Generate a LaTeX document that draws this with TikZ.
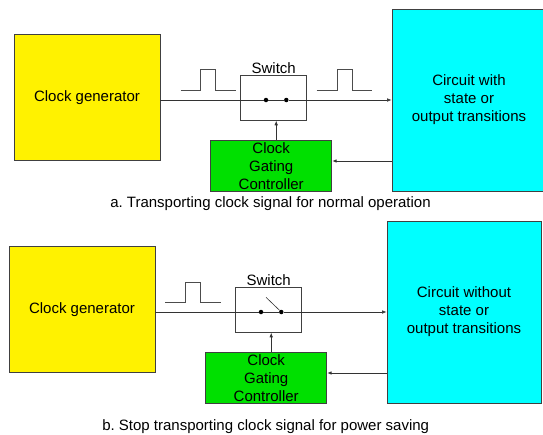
\documentclass[tikz,border=0pt]{standalone}
\usepackage{fontspec}
\setmainfont{Liberation Sans}
\usetikzlibrary{arrows.meta,positioning}
\definecolor{ctrlgreen}{RGB}{0,224,0}
\definecolor{circcyan}{RGB}{0,255,255}
\tikzset{
  blk/.style={draw=black!75, line width=0.8pt, align=center, inner sep=0pt},
  wire/.style={draw=black!80, line width=0.6pt},
  sig/.style={wire, -{Latex[length=4.5pt,width=3.5pt]}},
  pin/.style={circle, fill=black, inner sep=0pt, minimum size=4.5pt},
  pulse/.style={draw=black!70, line width=0.8pt},
}
\frenchspacing

\begin{document}
\begin{tikzpicture}[x=1pt,y=-1pt,font={\fontsize{15}{18}\selectfont}]
\clip (0,0) rectangle (543,434);
% ----- panel (a): clock passes the closed switch -----
\begin{scope}
\node[blk, fill=yellow, minimum width=146pt, minimum height=126.4pt] (gen-a) at (87,97.5) {Clock generator};
\node[blk, fill=circcyan, minimum width=154pt, minimum height=182pt] (circ-a) at (469,100) {Circuit with\\state or\\output transitions};
\node[blk, minimum width=66pt, minimum height=45.3pt] (sw-a) at (273.7,97.7) {};
\node[above=0pt of sw-a, inner sep=1pt] (swlbl-a) {Switch};
\node[blk, fill=ctrlgreen, minimum width=121pt, minimum height=50.7pt] (ctrl-a) at (271.2,165.7) {Clock\\Gating\\Controller};
\node[pin] (p1-a) at (266,100) {};
\node[pin] (p2-a) at (286.3,100) {};
\coordinate (mid-a) at (276.2,100);
\coordinate (fb-a) at (392,161);
\draw[wire] (gen-a.east |- p1-a) -- (p1-a);
\draw[wire] (p1-a) -- (p2-a);
\draw[sig] (p2-a) -- (circ-a.west |- p2-a);
\draw[sig] (ctrl-a.north -| mid-a) -- (sw-a.south -| mid-a);
\draw[sig, line width=1pt] (fb-a) -- (ctrl-a.east |- fb-a);
\draw[pulse] (180.7,90) -- (200.7,90) -- (200.7,69.7) -- (215.7,69.7) -- (215.7,90) -- (236,90);
\draw[pulse] (316.7,90) -- (337,90) -- (337,69.7) -- (352.3,69.7) -- (352.3,90) -- (372.3,90);
\node (cap-a) at (270.5,204) {a. Transporting clock signal for normal operation};
\end{scope}
% ----- panel (b): switch open, clock stopped -----
\begin{scope}[shift={(-5,212)}]
\node[blk, fill=yellow, minimum width=146pt, minimum height=126.4pt] (gen-b) at (87,97.5) {Clock generator};
\node[blk, fill=circcyan, minimum width=154pt, minimum height=182pt] (circ-b) at (469,100) {Circuit without\\state or\\output transitions};
\node[blk, minimum width=66pt, minimum height=45.3pt] (sw-b) at (273.7,97.7) {};
\node[above=0pt of sw-b, inner sep=1pt] (swlbl-b) {Switch};
\node[blk, fill=ctrlgreen, minimum width=121pt, minimum height=50.7pt] (ctrl-b) at (271.2,165.7) {Clock\\Gating\\Controller};
\node[pin] (p1-b) at (266,100) {};
\node[pin] (p2-b) at (286.3,100) {};
\coordinate (mid-b) at (276.2,100);
\coordinate (lever-b) at (271,85.3);
\coordinate (fb-b) at (392,161);
\draw[wire] (gen-b.east |- p1-b) -- (p1-b);
\draw[wire] (p1-b) -- (p2-b);
\draw[wire] (p2-b) -- (lever-b);
\draw[sig] (p2-b) -- (circ-b.west |- p2-b);
\draw[sig] (ctrl-b.north -| mid-b) -- (sw-b.south -| mid-b);
\draw[sig, line width=1pt] (fb-b) -- (ctrl-b.east |- fb-b);
\draw[pulse] (170,90.3) -- (190.7,90.3) -- (190.7,70) -- (205.7,70) -- (205.7,90.3) -- (225.7,90.3);
\node (cap-b) at (270.7,214.7) {b. Stop transporting clock signal for power saving};
\end{scope}
\end{tikzpicture}
\end{document}
